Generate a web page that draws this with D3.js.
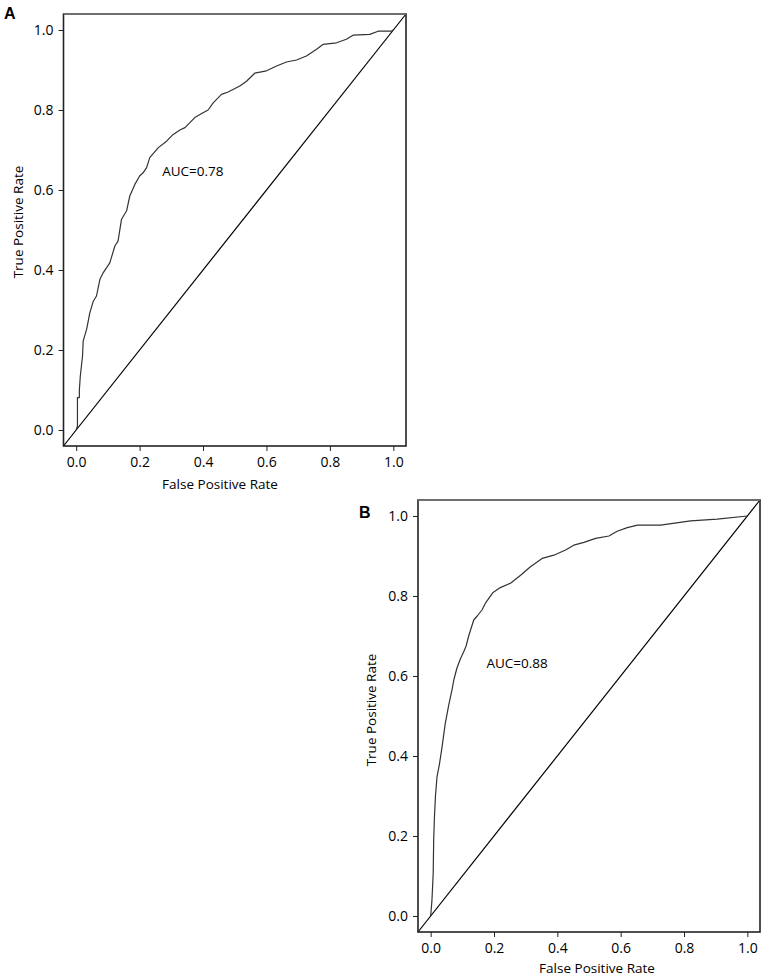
<!DOCTYPE html>
<html>
<head>
<meta charset="utf-8">
<script src="https://cdn.jsdelivr.net/npm/d3@7"></script>
<style>
  body { margin: 0; background: #fff; }
  svg { display: block; }
  .tick text { font-family: "Open Sans", sans-serif; font-size: 14px; fill: #000; }
  .tick line { stroke: #222; }
</style>
</head>
<body>
<svg id="chart" width="765" height="976"></svg>
<script>
// tick values shared by both axes
const axisTicks = [0, 0.2, 0.4, 0.6, 0.8, 1.0];

// panel A roc curve
const fprA = [0, 0.004, 0.004, 0.010, 0.010, 0.013, 0.020, 0.022, 0.033, 0.043, 0.054, 0.064,
  0.075, 0.085, 0.096, 0.106, 0.122, 0.132, 0.143, 0.159, 0.169, 0.185, 0.200, 0.211,
  0.222, 0.232, 0.259, 0.285, 0.306, 0.327, 0.343, 0.374, 0.400, 0.416, 0.432, 0.458,
  0.479, 0.516, 0.537, 0.563, 0.600, 0.632, 0.663, 0.695, 0.726, 0.758, 0.778, 0.800,
  0.821, 0.852, 0.873, 0.926, 0.952, 0.994, 1.0];
const tprA = [0, 0.010, 0.081, 0.081, 0.100, 0.135, 0.185, 0.222, 0.252, 0.293, 0.322, 0.335,
  0.377, 0.393, 0.406, 0.418, 0.460, 0.472, 0.527, 0.548, 0.585, 0.614, 0.635, 0.643,
  0.656, 0.681, 0.706, 0.722, 0.739, 0.750, 0.756, 0.781, 0.793, 0.800, 0.818, 0.839,
  0.845, 0.860, 0.872, 0.892, 0.898, 0.910, 0.920, 0.925, 0.935, 0.952, 0.964, 0.966,
  0.968, 0.977, 0.987, 0.989, 0.997, 0.997, 1.0];

// panel B roc curve
const fprB = [0, 0.004, 0.008, 0.0095, 0.012, 0.015, 0.020, 0.028, 0.036, 0.046, 0.057, 0.068,
  0.073, 0.083, 0.094, 0.104, 0.112, 0.120, 0.128, 0.136, 0.147, 0.162, 0.173, 0.197,
  0.220, 0.252, 0.284, 0.315, 0.352, 0.389, 0.426, 0.452, 0.484, 0.521, 0.563, 0.589,
  0.621, 0.653, 0.726, 0.821, 0.905, 1.0];
const tprB = [0, 0.039, 0.106, 0.190, 0.248, 0.298, 0.348, 0.381, 0.423, 0.481, 0.527, 0.568,
  0.590, 0.620, 0.643, 0.660, 0.675, 0.700, 0.720, 0.740, 0.750, 0.765, 0.782, 0.809,
  0.821, 0.832, 0.852, 0.873, 0.894, 0.902, 0.915, 0.927, 0.934, 0.944, 0.950, 0.962,
  0.971, 0.977, 0.977, 0.988, 0.992, 1.0];

const panelLabels = ['A', 'B'];
const aucLabels = ['AUC=0.78', 'AUC=0.88'];
// where the AUC text sits, in data units
const aucPos = [[0.271, 0.635], [0.176, 0.619]];

const svg = d3.select('#chart');
const font = '"Open Sans", sans-serif';

/**
 * Draw one ROC panel
 * @param {obj} args layout and data for the panel
 */
function drawPanel(args) {
  const {
    left, top, width, height, fpr, tpr, label, auc, aucAt,
    labelAt, xTitleAt, yTitleAt,
  } = args;

  // R style 4% padding round [0, 1]
  const x = d3.scaleLinear().domain([-0.04, 1.04]).range([left, left + width]);
  const y = d3.scaleLinear().domain([-0.04, 1.04]).range([top + height, top]);

  const g = svg.append('g').attr('class', 'panel');
  const points = d3.zip(fpr, tpr);

  // axes
  g.append('g')
    .attr('transform', `translate(${left},0)`)
    .call(d3.axisLeft(y).tickValues(axisTicks).tickFormat(d3.format('.1f'))
      .tickSize(5).tickPadding(5))
    .call((a) => a.select('.domain').remove());
  g.append('g')
    .attr('transform', `translate(0,${top + height})`)
    .call(d3.axisBottom(x).tickValues(axisTicks).tickFormat(d3.format('.1f'))
      .tickSize(5).tickPadding(6))
    .call((a) => a.select('.domain').remove());

  // chance line, corner to corner
  g.append('line')
    .attr('x1', x(-0.04)).attr('y1', y(-0.04))
    .attr('x2', x(1.04)).attr('y2', y(1.04))
    .attr('stroke', '#000')
    .attr('stroke-width', 1.2);

  // roc curve
  g.append('path')
    .datum(points)
    .attr('fill', 'none')
    .attr('stroke', '#333')
    .attr('stroke-width', 1.2)
    .attr('stroke-linejoin', 'round')
    .attr('d', d3.line().x((d) => x(d[0])).y((d) => y(d[1])));

  // frame: top edge is lighter in the original
  g.append('rect')
    .attr('x', left).attr('y', top)
    .attr('width', width).attr('height', height)
    .attr('fill', 'none')
    .attr('stroke', '#222')
    .attr('stroke-width', 1.6);
  g.append('line')
    .attr('x1', left).attr('x2', left + width)
    .attr('y1', top).attr('y2', top)
    .attr('stroke', '#7a7a7a')
    .attr('stroke-width', 1.6);

  g.append('text')
    .attr('x', x(aucAt[0]))
    .attr('y', y(aucAt[1]))
    .style('font-family', font)
    .style('font-size', '13.5px')
    .attr('fill', '#000')
    .text(auc);

  g.append('text')
    .attr('x', xTitleAt[0])
    .attr('y', xTitleAt[1])
    .attr('text-anchor', 'middle')
    .style('font-family', font)
    .style('font-size', '13.5px')
    .attr('fill', '#000')
    .text('False Positive Rate');

  g.append('text')
    .attr('transform', `translate(${yTitleAt[0]},${yTitleAt[1]}) rotate(-90)`)
    .attr('text-anchor', 'middle')
    .style('font-family', font)
    .style('font-size', '13.5px')
    .attr('fill', '#000')
    .text('True Positive Rate');

  g.append('text')
    .attr('x', labelAt[0])
    .attr('y', labelAt[1])
    .style('font-family', '"Liberation Sans", Arial, sans-serif')
    .style('font-size', '16px')
    .style('font-weight', 700)
    .attr('fill', '#000')
    .text(label);
}

drawPanel({
  left: 63.5,
  top: 14,
  width: 342.5,
  height: 432,
  fpr: fprA,
  tpr: tprA,
  label: panelLabels[0],
  auc: aucLabels[0],
  aucAt: aucPos[0],
  labelAt: [4, 19],
  xTitleAt: [220, 489],
  yTitleAt: [23, 222],
});

drawPanel({
  left: 418,
  top: 500,
  width: 342,
  height: 432,
  fpr: fprB,
  tpr: tprB,
  label: panelLabels[1],
  auc: aucLabels[1],
  aucAt: aucPos[1],
  labelAt: [359, 518],
  xTitleAt: [597, 973],
  yTitleAt: [376, 710],
});
</script>
</body>
</html>
